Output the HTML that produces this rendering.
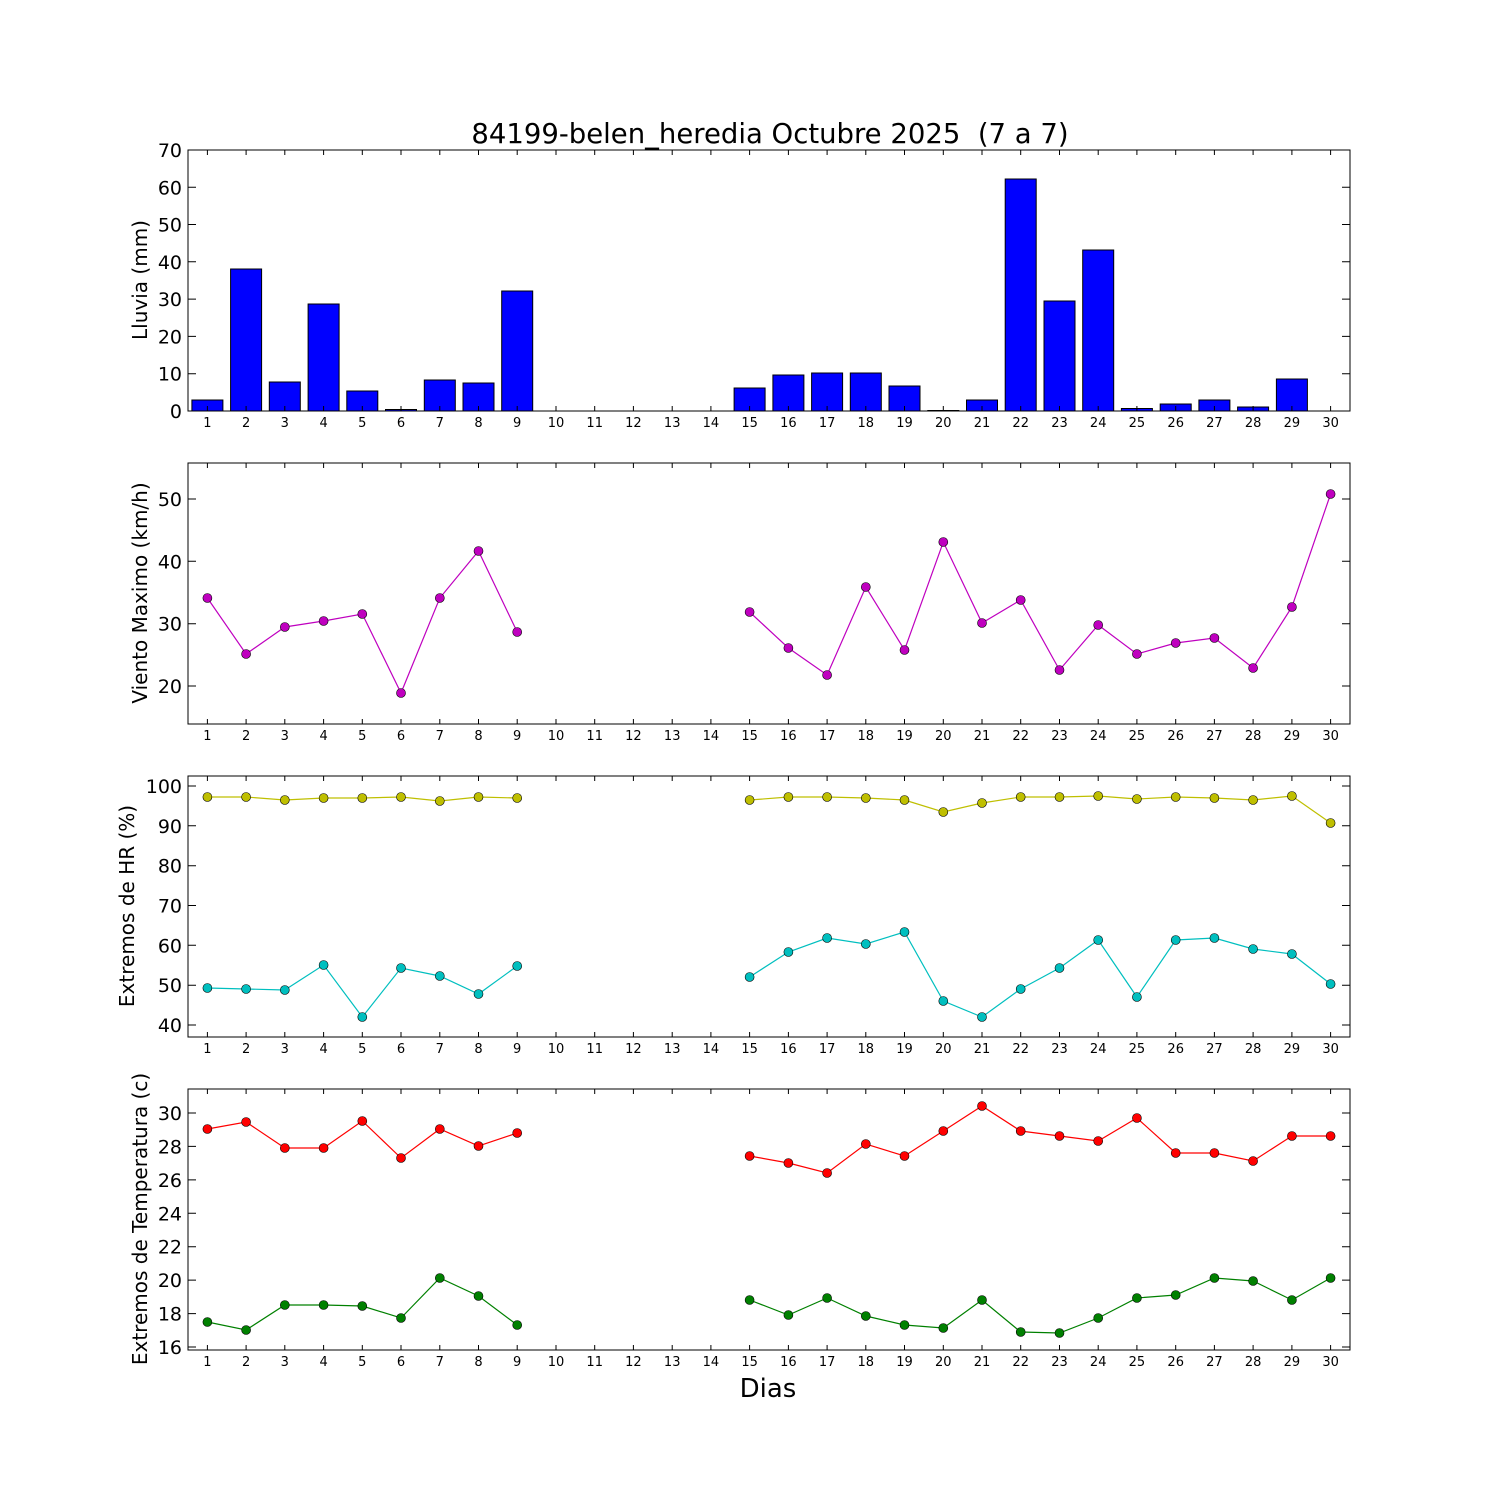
<!DOCTYPE html>
<html><head><meta charset="utf-8"><style>
html,body{margin:0;padding:0;background:#fff}
svg{display:block;font-family:"DejaVu Sans","Liberation Sans",sans-serif}
.xt{font-size:13px;text-anchor:middle}
.yt{font-size:19px;text-anchor:end}
.yl{font-size:20px;text-anchor:middle}
</style></head><body>
<svg width="1500" height="1500" viewBox="0 0 1500 1500" xmlns="http://www.w3.org/2000/svg">
<text x="770" y="143" font-size="27.5" text-anchor="middle" style="white-space:pre" xml:space="preserve">84199-belen_heredia Octubre 2025  (7 a 7)</text>

<!-- Panel 1 bars -->
<g fill="#0000ff" stroke="#000" stroke-width="1">
<rect x="191.9" y="400" width="31" height="11"/>
<rect x="230.6" y="269" width="31" height="142"/>
<rect x="269.3" y="382" width="31" height="29"/>
<rect x="308.1" y="304" width="31" height="107"/>
<rect x="346.8" y="391" width="31" height="20"/>
<rect x="385.5" y="409.5" width="31" height="1.5"/>
<rect x="424.3" y="380" width="31" height="31"/>
<rect x="463" y="383" width="31" height="28"/>
<rect x="501.7" y="291" width="31" height="120"/>
<rect x="734.1" y="388" width="31" height="23"/>
<rect x="772.9" y="375" width="31" height="36"/>
<rect x="811.6" y="373" width="31" height="38"/>
<rect x="850.3" y="373" width="31" height="38"/>
<rect x="889" y="386" width="31" height="25"/>
<rect x="927.8" y="410.5" width="31" height="0.5"/>
<rect x="966.5" y="400" width="31" height="11"/>
<rect x="1005.2" y="179" width="31" height="232"/>
<rect x="1044" y="301" width="31" height="110"/>
<rect x="1082.7" y="250" width="31" height="161"/>
<rect x="1121.4" y="408.5" width="31" height="2.5"/>
<rect x="1160.2" y="404" width="31" height="7"/>
<rect x="1198.9" y="400" width="31" height="11"/>
<rect x="1237.6" y="407" width="31" height="4"/>
<rect x="1276.4" y="379" width="31" height="32"/>
</g>

<!-- frames -->
<g fill="none" stroke="#000" stroke-width="1">
<rect x="188" y="150" width="1162" height="261"/>
<rect x="188" y="463" width="1162" height="261"/>
<rect x="188" y="776" width="1162" height="261"/>
<rect x="188" y="1089" width="1162" height="261"/>
</g>

<!-- x ticks (all panels) -->
<g stroke="#000" stroke-width="1" id="xt">
<path d="M207.4 411v-5M246.1 411v-5M284.8 411v-5M323.6 411v-5M362.3 411v-5M401 411v-5M439.8 411v-5M478.5 411v-5M517.2 411v-5M556 411v-5M594.7 411v-5M633.4 411v-5M672.2 411v-5M710.9 411v-5M749.6 411v-5M788.4 411v-5M827.1 411v-5M865.8 411v-5M904.5 411v-5M943.3 411v-5M982 411v-5M1020.7 411v-5M1059.5 411v-5M1098.2 411v-5M1136.9 411v-5M1175.7 411v-5M1214.4 411v-5M1253.1 411v-5M1291.9 411v-5M1330.6 411v-5
M207.4 150v5M246.1 150v5M284.8 150v5M323.6 150v5M362.3 150v5M401 150v5M439.8 150v5M478.5 150v5M517.2 150v5M556 150v5M594.7 150v5M633.4 150v5M672.2 150v5M710.9 150v5M749.6 150v5M788.4 150v5M827.1 150v5M865.8 150v5M904.5 150v5M943.3 150v5M982 150v5M1020.7 150v5M1059.5 150v5M1098.2 150v5M1136.9 150v5M1175.7 150v5M1214.4 150v5M1253.1 150v5M1291.9 150v5M1330.6 150v5"/>
</g>
<use href="#xt" y="313"/><use href="#xt" y="626"/><use href="#xt" y="939"/>

<g class="xt">
<text x="207.4" y="427">1</text><text x="246.1" y="427">2</text><text x="284.8" y="427">3</text><text x="323.6" y="427">4</text><text x="362.3" y="427">5</text><text x="401" y="427">6</text><text x="439.8" y="427">7</text><text x="478.5" y="427">8</text><text x="517.2" y="427">9</text><text x="556" y="427">10</text><text x="594.7" y="427">11</text><text x="633.4" y="427">12</text><text x="672.2" y="427">13</text><text x="710.9" y="427">14</text><text x="749.6" y="427">15</text><text x="788.4" y="427">16</text><text x="827.1" y="427">17</text><text x="865.8" y="427">18</text><text x="904.5" y="427">19</text><text x="943.3" y="427">20</text><text x="982" y="427">21</text><text x="1020.7" y="427">22</text><text x="1059.5" y="427">23</text><text x="1098.2" y="427">24</text><text x="1136.9" y="427">25</text><text x="1175.7" y="427">26</text><text x="1214.4" y="427">27</text><text x="1253.1" y="427">28</text><text x="1291.9" y="427">29</text><text x="1330.6" y="427">30</text>
</g>
<g class="xt">
<text x="207.4" y="740">1</text><text x="246.1" y="740">2</text><text x="284.8" y="740">3</text><text x="323.6" y="740">4</text><text x="362.3" y="740">5</text><text x="401" y="740">6</text><text x="439.8" y="740">7</text><text x="478.5" y="740">8</text><text x="517.2" y="740">9</text><text x="556" y="740">10</text><text x="594.7" y="740">11</text><text x="633.4" y="740">12</text><text x="672.2" y="740">13</text><text x="710.9" y="740">14</text><text x="749.6" y="740">15</text><text x="788.4" y="740">16</text><text x="827.1" y="740">17</text><text x="865.8" y="740">18</text><text x="904.5" y="740">19</text><text x="943.3" y="740">20</text><text x="982" y="740">21</text><text x="1020.7" y="740">22</text><text x="1059.5" y="740">23</text><text x="1098.2" y="740">24</text><text x="1136.9" y="740">25</text><text x="1175.7" y="740">26</text><text x="1214.4" y="740">27</text><text x="1253.1" y="740">28</text><text x="1291.9" y="740">29</text><text x="1330.6" y="740">30</text>
</g>
<g class="xt">
<text x="207.4" y="1053">1</text><text x="246.1" y="1053">2</text><text x="284.8" y="1053">3</text><text x="323.6" y="1053">4</text><text x="362.3" y="1053">5</text><text x="401" y="1053">6</text><text x="439.8" y="1053">7</text><text x="478.5" y="1053">8</text><text x="517.2" y="1053">9</text><text x="556" y="1053">10</text><text x="594.7" y="1053">11</text><text x="633.4" y="1053">12</text><text x="672.2" y="1053">13</text><text x="710.9" y="1053">14</text><text x="749.6" y="1053">15</text><text x="788.4" y="1053">16</text><text x="827.1" y="1053">17</text><text x="865.8" y="1053">18</text><text x="904.5" y="1053">19</text><text x="943.3" y="1053">20</text><text x="982" y="1053">21</text><text x="1020.7" y="1053">22</text><text x="1059.5" y="1053">23</text><text x="1098.2" y="1053">24</text><text x="1136.9" y="1053">25</text><text x="1175.7" y="1053">26</text><text x="1214.4" y="1053">27</text><text x="1253.1" y="1053">28</text><text x="1291.9" y="1053">29</text><text x="1330.6" y="1053">30</text>
</g>
<g class="xt">
<text x="207.4" y="1366">1</text><text x="246.1" y="1366">2</text><text x="284.8" y="1366">3</text><text x="323.6" y="1366">4</text><text x="362.3" y="1366">5</text><text x="401" y="1366">6</text><text x="439.8" y="1366">7</text><text x="478.5" y="1366">8</text><text x="517.2" y="1366">9</text><text x="556" y="1366">10</text><text x="594.7" y="1366">11</text><text x="633.4" y="1366">12</text><text x="672.2" y="1366">13</text><text x="710.9" y="1366">14</text><text x="749.6" y="1366">15</text><text x="788.4" y="1366">16</text><text x="827.1" y="1366">17</text><text x="865.8" y="1366">18</text><text x="904.5" y="1366">19</text><text x="943.3" y="1366">20</text><text x="982" y="1366">21</text><text x="1020.7" y="1366">22</text><text x="1059.5" y="1366">23</text><text x="1098.2" y="1366">24</text><text x="1136.9" y="1366">25</text><text x="1175.7" y="1366">26</text><text x="1214.4" y="1366">27</text><text x="1253.1" y="1366">28</text><text x="1291.9" y="1366">29</text><text x="1330.6" y="1366">30</text>
</g>

<!-- y ticks -->
<g stroke="#000" stroke-width="1">
<path d="M188 411h8M188 373.7h8M188 336.4h8M188 299.1h8M188 261.8h8M188 224.5h8M188 187.3h8M188 150h8
M1350 411h-8M1350 373.7h-8M1350 336.4h-8M1350 299.1h-8M1350 261.8h-8M1350 224.5h-8M1350 187.3h-8M1350 150h-8
M188 686h8M188 623.7h8M188 561.3h8M188 499h8M1350 686h-8M1350 623.7h-8M1350 561.3h-8M1350 499h-8
M188 1025h8M188 985.2h8M188 945.3h8M188 905.5h8M188 865.7h8M188 825.8h8M188 786h8
M1350 1025h-8M1350 985.2h-8M1350 945.3h-8M1350 905.5h-8M1350 865.7h-8M1350 825.8h-8M1350 786h-8
M188 1347h8M188 1313.6h8M188 1280.1h8M188 1246.7h8M188 1213.3h8M188 1179.9h8M188 1146.4h8M188 1113h8
M1350 1347h-8M1350 1313.6h-8M1350 1280.1h-8M1350 1246.7h-8M1350 1213.3h-8M1350 1179.9h-8M1350 1146.4h-8M1350 1113h-8"/>
</g>
<g class="yt">
<text x="182" y="418">0</text><text x="182" y="380.7">10</text><text x="182" y="343.4">20</text><text x="182" y="306.1">30</text><text x="182" y="268.8">40</text><text x="182" y="231.5">50</text><text x="182" y="194.3">60</text><text x="182" y="157">70</text>
<text x="182" y="693">20</text><text x="182" y="630.7">30</text><text x="182" y="568.3">40</text><text x="182" y="506">50</text>
<text x="182" y="1032">40</text><text x="182" y="992.2">50</text><text x="182" y="952.3">60</text><text x="182" y="912.5">70</text><text x="182" y="872.7">80</text><text x="182" y="832.8">90</text><text x="182" y="793">100</text>
<text x="182" y="1354">16</text><text x="182" y="1320.6">18</text><text x="182" y="1287.1">20</text><text x="182" y="1253.7">22</text><text x="182" y="1220.3">24</text><text x="182" y="1186.9">26</text><text x="182" y="1153.4">28</text><text x="182" y="1120">30</text>
</g>
<g class="yl">
<text transform="translate(147 280) rotate(-90)">Lluvia (mm)</text>
<text transform="translate(147 593) rotate(-90)">Viento Maximo (km/h)</text>
<text transform="translate(134 906) rotate(-90)">Extremos de HR (%)</text>
<text transform="translate(147 1219) rotate(-90)">Extremos de Temperatura (c)</text>
</g>
<text x="768" y="1397" font-size="26" text-anchor="middle">Dias</text>

<!-- Panel 2 -->
<g fill="none" stroke="#bf00bf" stroke-width="1.2">
<polyline points="207.4,598 246.1,654 284.8,627 323.6,621 362.3,614 401,693 439.8,598 478.5,551 517.2,632"/>
<polyline points="749.6,612 788.4,648 827.1,675 865.8,587 904.5,650 943.3,542 982,623 1020.7,600 1059.5,670 1098.2,625 1136.9,654 1175.7,643 1214.4,638 1253.1,668 1291.9,607 1330.6,494"/>
</g>
<g fill="#bf00bf" stroke="#000" stroke-width="0.6">
<circle cx="207.4" cy="598" r="4.5"/><circle cx="246.1" cy="654" r="4.5"/><circle cx="284.8" cy="627" r="4.5"/><circle cx="323.6" cy="621" r="4.5"/><circle cx="362.3" cy="614" r="4.5"/><circle cx="401" cy="693" r="4.5"/><circle cx="439.8" cy="598" r="4.5"/><circle cx="478.5" cy="551" r="4.5"/><circle cx="517.2" cy="632" r="4.5"/>
<circle cx="749.6" cy="612" r="4.5"/><circle cx="788.4" cy="648" r="4.5"/><circle cx="827.1" cy="675" r="4.5"/><circle cx="865.8" cy="587" r="4.5"/><circle cx="904.5" cy="650" r="4.5"/><circle cx="943.3" cy="542" r="4.5"/><circle cx="982" cy="623" r="4.5"/><circle cx="1020.7" cy="600" r="4.5"/><circle cx="1059.5" cy="670" r="4.5"/><circle cx="1098.2" cy="625" r="4.5"/><circle cx="1136.9" cy="654" r="4.5"/><circle cx="1175.7" cy="643" r="4.5"/><circle cx="1214.4" cy="638" r="4.5"/><circle cx="1253.1" cy="668" r="4.5"/><circle cx="1291.9" cy="607" r="4.5"/><circle cx="1330.6" cy="494" r="4.5"/>
</g>

<!-- Panel 3 yellow -->
<g fill="none" stroke="#bfbf00" stroke-width="1.2">
<polyline points="207.4,797 246.1,797 284.8,800 323.6,798 362.3,798 401,797 439.8,801 478.5,797 517.2,798"/>
<polyline points="749.6,800 788.4,797 827.1,797 865.8,798 904.5,800 943.3,812 982,803 1020.7,797 1059.5,797 1098.2,796 1136.9,799 1175.7,797 1214.4,798 1253.1,800 1291.9,796 1330.6,823"/>
</g>
<g fill="#bfbf00" stroke="#000" stroke-width="0.6">
<circle cx="207.4" cy="797" r="4.5"/><circle cx="246.1" cy="797" r="4.5"/><circle cx="284.8" cy="800" r="4.5"/><circle cx="323.6" cy="798" r="4.5"/><circle cx="362.3" cy="798" r="4.5"/><circle cx="401" cy="797" r="4.5"/><circle cx="439.8" cy="801" r="4.5"/><circle cx="478.5" cy="797" r="4.5"/><circle cx="517.2" cy="798" r="4.5"/>
<circle cx="749.6" cy="800" r="4.5"/><circle cx="788.4" cy="797" r="4.5"/><circle cx="827.1" cy="797" r="4.5"/><circle cx="865.8" cy="798" r="4.5"/><circle cx="904.5" cy="800" r="4.5"/><circle cx="943.3" cy="812" r="4.5"/><circle cx="982" cy="803" r="4.5"/><circle cx="1020.7" cy="797" r="4.5"/><circle cx="1059.5" cy="797" r="4.5"/><circle cx="1098.2" cy="796" r="4.5"/><circle cx="1136.9" cy="799" r="4.5"/><circle cx="1175.7" cy="797" r="4.5"/><circle cx="1214.4" cy="798" r="4.5"/><circle cx="1253.1" cy="800" r="4.5"/><circle cx="1291.9" cy="796" r="4.5"/><circle cx="1330.6" cy="823" r="4.5"/>
</g>
<!-- Panel 3 cyan -->
<g fill="none" stroke="#00bfbf" stroke-width="1.2">
<polyline points="207.4,988 246.1,989 284.8,990 323.6,965 362.3,1017 401,968 439.8,976 478.5,994 517.2,966"/>
<polyline points="749.6,977 788.4,952 827.1,938 865.8,944 904.5,932 943.3,1001 982,1017 1020.7,989 1059.5,968 1098.2,940 1136.9,997 1175.7,940 1214.4,938 1253.1,949 1291.9,954 1330.6,984"/>
</g>
<g fill="#00bfbf" stroke="#000" stroke-width="0.6">
<circle cx="207.4" cy="988" r="4.5"/><circle cx="246.1" cy="989" r="4.5"/><circle cx="284.8" cy="990" r="4.5"/><circle cx="323.6" cy="965" r="4.5"/><circle cx="362.3" cy="1017" r="4.5"/><circle cx="401" cy="968" r="4.5"/><circle cx="439.8" cy="976" r="4.5"/><circle cx="478.5" cy="994" r="4.5"/><circle cx="517.2" cy="966" r="4.5"/>
<circle cx="749.6" cy="977" r="4.5"/><circle cx="788.4" cy="952" r="4.5"/><circle cx="827.1" cy="938" r="4.5"/><circle cx="865.8" cy="944" r="4.5"/><circle cx="904.5" cy="932" r="4.5"/><circle cx="943.3" cy="1001" r="4.5"/><circle cx="982" cy="1017" r="4.5"/><circle cx="1020.7" cy="989" r="4.5"/><circle cx="1059.5" cy="968" r="4.5"/><circle cx="1098.2" cy="940" r="4.5"/><circle cx="1136.9" cy="997" r="4.5"/><circle cx="1175.7" cy="940" r="4.5"/><circle cx="1214.4" cy="938" r="4.5"/><circle cx="1253.1" cy="949" r="4.5"/><circle cx="1291.9" cy="954" r="4.5"/><circle cx="1330.6" cy="984" r="4.5"/>
</g>

<!-- Panel 4 red -->
<g fill="none" stroke="#ff0000" stroke-width="1.2">
<polyline points="207.4,1129 246.1,1122 284.8,1148 323.6,1148 362.3,1121 401,1158 439.8,1129 478.5,1146 517.2,1133"/>
<polyline points="749.6,1156 788.4,1163 827.1,1173 865.8,1144 904.5,1156 943.3,1131 982,1106 1020.7,1131 1059.5,1136 1098.2,1141 1136.9,1118 1175.7,1153 1214.4,1153 1253.1,1161 1291.9,1136 1330.6,1136"/>
</g>
<g fill="#ff0000" stroke="#000" stroke-width="0.6">
<circle cx="207.4" cy="1129" r="4.5"/><circle cx="246.1" cy="1122" r="4.5"/><circle cx="284.8" cy="1148" r="4.5"/><circle cx="323.6" cy="1148" r="4.5"/><circle cx="362.3" cy="1121" r="4.5"/><circle cx="401" cy="1158" r="4.5"/><circle cx="439.8" cy="1129" r="4.5"/><circle cx="478.5" cy="1146" r="4.5"/><circle cx="517.2" cy="1133" r="4.5"/>
<circle cx="749.6" cy="1156" r="4.5"/><circle cx="788.4" cy="1163" r="4.5"/><circle cx="827.1" cy="1173" r="4.5"/><circle cx="865.8" cy="1144" r="4.5"/><circle cx="904.5" cy="1156" r="4.5"/><circle cx="943.3" cy="1131" r="4.5"/><circle cx="982" cy="1106" r="4.5"/><circle cx="1020.7" cy="1131" r="4.5"/><circle cx="1059.5" cy="1136" r="4.5"/><circle cx="1098.2" cy="1141" r="4.5"/><circle cx="1136.9" cy="1118" r="4.5"/><circle cx="1175.7" cy="1153" r="4.5"/><circle cx="1214.4" cy="1153" r="4.5"/><circle cx="1253.1" cy="1161" r="4.5"/><circle cx="1291.9" cy="1136" r="4.5"/><circle cx="1330.6" cy="1136" r="4.5"/>
</g>
<!-- Panel 4 green -->
<g fill="none" stroke="#008000" stroke-width="1.2">
<polyline points="207.4,1322 246.1,1330 284.8,1305 323.6,1305 362.3,1306 401,1318 439.8,1278 478.5,1296 517.2,1325"/>
<polyline points="749.6,1300 788.4,1315 827.1,1298 865.8,1316 904.5,1325 943.3,1328 982,1300 1020.7,1332 1059.5,1333 1098.2,1318 1136.9,1298 1175.7,1295 1214.4,1278 1253.1,1281 1291.9,1300 1330.6,1278"/>
</g>
<g fill="#008000" stroke="#000" stroke-width="0.6">
<circle cx="207.4" cy="1322" r="4.5"/><circle cx="246.1" cy="1330" r="4.5"/><circle cx="284.8" cy="1305" r="4.5"/><circle cx="323.6" cy="1305" r="4.5"/><circle cx="362.3" cy="1306" r="4.5"/><circle cx="401" cy="1318" r="4.5"/><circle cx="439.8" cy="1278" r="4.5"/><circle cx="478.5" cy="1296" r="4.5"/><circle cx="517.2" cy="1325" r="4.5"/>
<circle cx="749.6" cy="1300" r="4.5"/><circle cx="788.4" cy="1315" r="4.5"/><circle cx="827.1" cy="1298" r="4.5"/><circle cx="865.8" cy="1316" r="4.5"/><circle cx="904.5" cy="1325" r="4.5"/><circle cx="943.3" cy="1328" r="4.5"/><circle cx="982" cy="1300" r="4.5"/><circle cx="1020.7" cy="1332" r="4.5"/><circle cx="1059.5" cy="1333" r="4.5"/><circle cx="1098.2" cy="1318" r="4.5"/><circle cx="1136.9" cy="1298" r="4.5"/><circle cx="1175.7" cy="1295" r="4.5"/><circle cx="1214.4" cy="1278" r="4.5"/><circle cx="1253.1" cy="1281" r="4.5"/><circle cx="1291.9" cy="1300" r="4.5"/><circle cx="1330.6" cy="1278" r="4.5"/>
</g>
</svg>
</body></html>
